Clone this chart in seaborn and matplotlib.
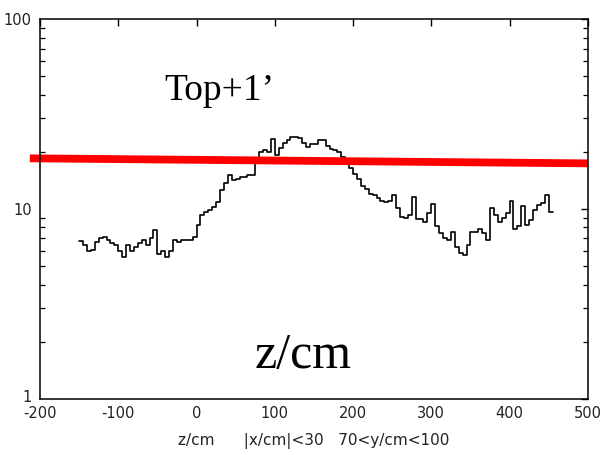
import numpy as np
import matplotlib
matplotlib.use("Agg")
import matplotlib.pyplot as plt
import seaborn as sns

# Lower edges of the 5 cm z bins (cm) and the histogram content per bin
z_low = np.arange(-150, 455, 5)
counts = [
    6.8, 6.5, 6.0, 6.1, 6.7, 7.0, 7.1, 6.9, 6.6, 6.5, 6.0, 5.6, 6.5, 6.0,
    6.3, 6.6, 6.9, 6.5, 7.0, 7.8, 5.8, 6.0, 5.6, 6.0, 6.9, 6.7, 6.9,
    6.9, 6.9, 7.15, 8.2, 9.3, 9.6, 9.9, 10.2, 10.9, 12.6, 13.7, 15.1, 14.2,
    14.4, 14.8, 14.8, 15.1, 15.2, 18.5, 20.0, 20.4, 20.0, 23.4, 19.2, 20.9,
    22.3, 23.1, 23.9, 24.0, 23.6, 22.3, 21.3, 22.0, 22.0, 23.1, 23.1, 21.5,
    20.7, 20.4, 20.0, 18.9, 18.1, 16.4, 15.3, 14.4, 13.2, 12.7, 12.0, 11.9,
    11.4, 11.0,
    10.9, 11.0, 11.9, 10.1, 9.1, 9.0, 9.3, 11.6, 8.9, 8.9, 8.6, 9.5, 10.6,
    8.1, 7.5, 7.0, 6.9, 7.6, 6.3, 5.9, 5.7, 6.5,
    7.6, 7.6, 7.9, 7.5, 6.9, 10.1, 9.3, 8.5, 9.0, 9.5, 11.0, 7.9, 8.1, 10.4,
    8.2, 8.8, 9.9, 10.5, 10.8, 11.9, 9.6,
]
bin_width = 5

# Reference level (straight red line)
ref_z = [-213, 500]
ref_level = [18.5, 17.4]

x_ticks = [-200, -100, 0, 100, 200, 300, 400, 500]
y_ticks = [1, 10, 100]

sns.set_theme(style="white")
plt.rcParams["font.family"] = ["DejaVu Sans"]

fig = plt.figure(figsize=(6.06, 4.55), dpi=100)
ax = fig.add_axes([0.066, 0.123, 0.904, 0.835])

step_x = list(z_low) + [z_low[-1] + bin_width]
step_y = list(counts) + [counts[-1]]
sns.lineplot(x=step_x, y=step_y, ax=ax, color="black", linewidth=1.2,
             drawstyle="steps-post", estimator=None, sort=False)
sns.lineplot(x=ref_z, y=ref_level, ax=ax, color="#ff0000", linewidth=5.6,
             estimator=None, sort=False, clip_on=False, solid_capstyle="butt")

ax.set_yscale("log")
ax.set_xlim(-200, 500)
ax.set_ylim(1, 100)
ax.set_xticks(x_ticks)
ax.set_xticklabels([str(t) for t in x_ticks])
ax.set_yticks(y_ticks)
ax.set_yticklabels([str(t) for t in y_ticks])
ax.yaxis.set_minor_locator(matplotlib.ticker.LogLocator(base=10, subs=np.arange(2, 10)))
ax.yaxis.set_minor_formatter(matplotlib.ticker.NullFormatter())

for side in ["left", "right", "top", "bottom"]:
    ax.spines[side].set_visible(True)
    ax.spines[side].set_color("black")
    ax.spines[side].set_linewidth(1.1)

ax.tick_params(axis="both", which="major", direction="in", length=5, width=1.0,
               color="black", top=True, right=True, labelsize=10.5,
               labelcolor="#222222")
ax.tick_params(axis="x", which="major", pad=5)
ax.tick_params(axis="y", which="major", pad=6)
ax.tick_params(axis="y", which="minor", direction="in", length=3.5, width=0.9,
               color="black", right=True, left=True)
ax.tick_params(axis="x", which="minor", bottom=False, top=False)

# lift the lowest y label slightly so it clears the first x label
lowest = ax.get_yticklabels()[0]
lowest.set_transform(lowest.get_transform() +
                     matplotlib.transforms.ScaledTranslation(0, 2 / 72, fig.dpi_scale_trans))

ax.set_xlabel("z/cm      |x/cm|<30   70<y/cm<100", fontsize=11,
              color="#222222", labelpad=9)
ax.set_ylabel("")

ax.text(-41.6, 37.5, "Top+1\u2019", fontsize=27, family="Liberation Serif",
        ha="left", va="baseline", color="black")
ax.text(74.6, 1.46, "z/cm", fontsize=36, family="Liberation Serif",
        ha="left", va="baseline", color="black")

fig.savefig("out.png", dpi=100, facecolor="white")
